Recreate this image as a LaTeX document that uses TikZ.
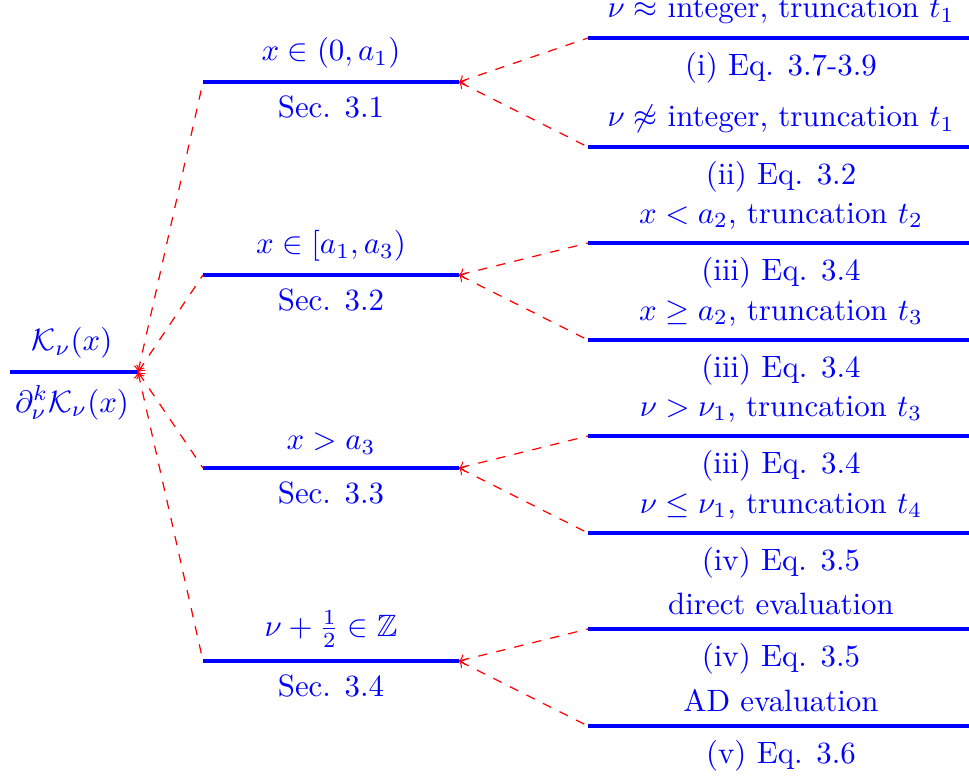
\documentclass[tikz,border=0pt]{standalone}
\usepackage{amsmath,amssymb}
\begin{document}
\begin{tikzpicture}[x=0.324pt,y=-0.324pt,
  bar/.style={blue,line width=1.5pt},
  lab/.style={text=blue,inner sep=0pt,font=\fontsize{10}{12}\selectfont},
  up/.style={lab,above=4.3pt},
  down/.style={lab,below=4.3pt},
  conn/.style={red,dashed,line width=0.4pt,<-,>={to[scale=0.8]}}]
\useasboundingbox (0,0) rectangle (969,778);
% root
\coordinate (rL) at (10,372); \coordinate (rR) at (138,372);
\draw[bar] (rL) -- (rR);
\node[up] (rA) at (72,372) {$\mathcal{K}_\nu(x)$};
\node[down] (rB) at (72,372) {$\partial_\nu^k\mathcal{K}_\nu(x)$};
% level 1
\foreach \n/\y/\a/\b in {
  1/82/{$x\in(0,a_1)$}/{Sec. 3.1},
  2/275/{$x\in[a_1,a_3)$}/{Sec. 3.2},
  3/468/{$x>a_3$}/{Sec. 3.3},
  4/661/{$\nu+\frac{1}{2}\in\mathbb{Z}$}/{Sec. 3.4}}{
  \coordinate (s\n L) at (203,\y); \coordinate (s\n R) at (459,\y);
  \draw[bar] (s\n L) -- (s\n R);
  \node[up] (s\n A) at (331,\y) {\a};
  \node[down] (s\n B) at (331,\y) {\b};
  \draw[conn] (rR) -- (s\n L);
}
% level 2
\foreach \n/\p/\y/\a/\b in {
  1/1/38/{$\nu\approx$ integer, truncation $t_1$}/{(i) Eq. 3.7-3.9},
  2/1/147/{$\nu\not\approx$ integer, truncation $t_1$}/{(ii) Eq. 3.2},
  3/2/243/{$x<a_2$, truncation $t_2$}/{(iii) Eq. 3.4},
  4/2/340/{$x\geq a_2$, truncation $t_3$}/{(iii) Eq. 3.4},
  5/3/436/{$\nu>\nu_1$, truncation $t_3$}/{(iii) Eq. 3.4},
  6/3/533/{$\nu\leq\nu_1$, truncation $t_4$}/{(iv) Eq. 3.5},
  7/4/629/{direct evaluation}/{(iv) Eq. 3.5},
  8/4/726/{AD evaluation}/{(v) Eq. 3.6}}{
  \coordinate (t\n L) at (588,\y); \coordinate (t\n R) at (969,\y);
  \draw[bar] (t\n L) -- (t\n R);
  \node[up] (t\n A) at (781,\y) {\a};
  \node[down] (t\n B) at (781,\y) {\b};
  \draw[conn] (s\p R) -- (t\n L);
}
\end{tikzpicture}
\end{document}
